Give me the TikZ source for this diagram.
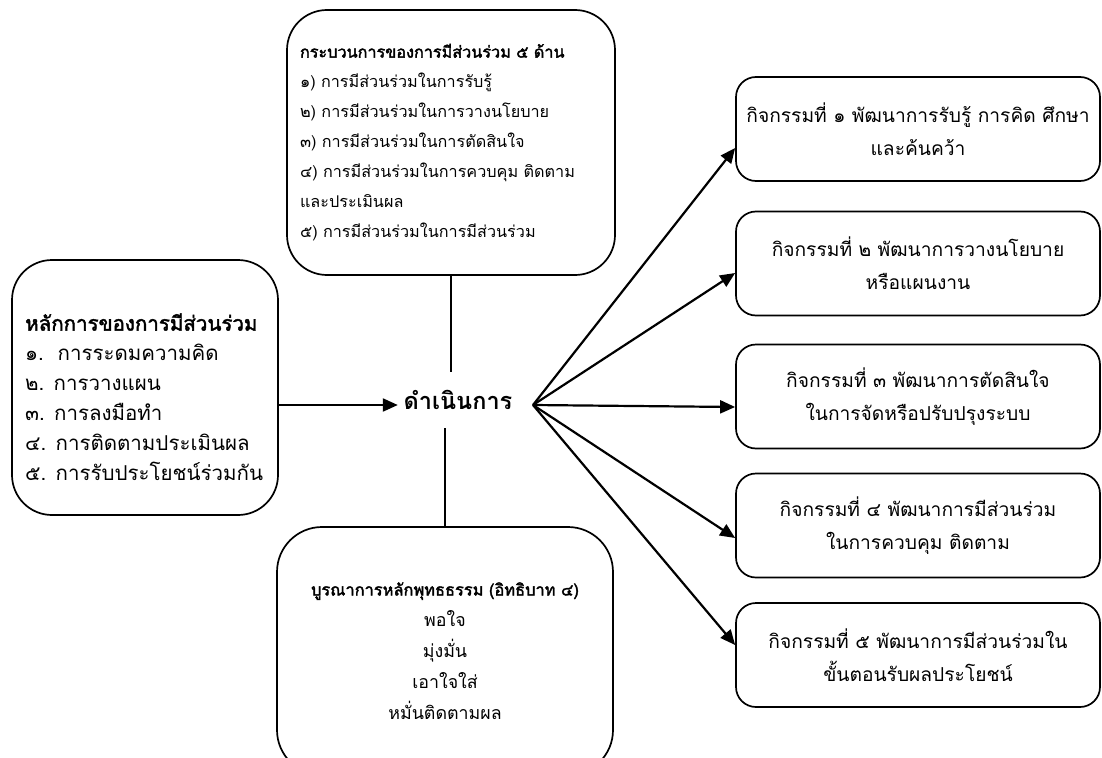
\documentclass[tikz,border=0pt]{standalone}
\usepackage{fontspec}
\setmainfont[Script=Thai]{Loma}
\newfontfamily\headfont[Script=Thai,FakeBold=2.2]{Loma}
\usetikzlibrary{arrows.meta,calc}

\begin{document}
\begin{tikzpicture}[x=1pt,y=-1pt,
  panel/.style={draw,line width=1.7pt,inner xsep=13pt,inner ysep=0pt},
  listbox/.style={panel,rounded corners=40pt,align=left},
  actbox/.style={panel,rounded corners=20pt,align=center,minimum width=364pt,
    minimum height=104pt,inner xsep=0pt,font=\fontsize{19.2}{33}\selectfont},
  link/.style={line width=1.5pt},
  flow/.style={line width=2.2pt,-{Triangle[length=15pt,width=13pt]}}]
\useasboundingbox (0,0) rectangle (1102,757);

% process box (top)
\node[listbox,text width=302pt,minimum height=265pt,font=\fontsize{16.2}{30}\selectfont]
  (proc) at (451,142.5) {%
  {\headfont กระบวนการของการมีส่วนร่วม ๕ ด้าน}\\
  ๑) การมีส่วนร่วมในการรับรู้\\
  ๒) การมีส่วนร่วมในการวางนโยบาย\\
  ๓) การมีส่วนร่วมในการตัดสินใจ\\
  ๔) การมีส่วนร่วมในการควบคุม ติดตาม\\
  และประเมินผล\\
  ๕) การมีส่วนร่วมในการมีส่วนร่วม};

% principles box (left): frame and its list
\node[panel,rounded corners=40pt,minimum width=266pt,minimum height=255pt]
  (prin) at (145,387.5) {};
\node[anchor=west,inner sep=0pt,align=left,font=\fontsize{20.5}{30}\selectfont]
  (printxt) at (25,397) {%
  {\headfont หลักการของการมีส่วนร่วม}\\
  ๑.\ \ การระดมความคิด\\
  ๒. การวางแผน\\
  ๓. การลงมือทำ\\
  ๔. การติดตามประเมินผล\\
  ๕. การรับประโยชน์ร่วมกัน};

% dhamma box (bottom)
\node[panel,rounded corners=45pt,align=center,minimum width=336pt,minimum height=248pt,
  font=\fontsize{17.8}{31}\selectfont] (dham) at (445,651) {%
  {\headfont\fontsize{16.4}{31}\selectfont บูรณาการหลักพุทธธรรม (อิทธิบาท ๔)}\\
  พอใจ\\
  มุ่งมั่น\\
  เอาใจใส่\\
  หมั่นติดตามผล};

% central step
\node[font=\bfseries\fontsize{23.5}{28}\selectfont,inner sep=0pt,minimum height=56pt,
  minimum width=120pt] (run) at (458,400) {ดำเนินการ};
\coordinate (hub) at (533,405);

% activity boxes (right)
\node[actbox] (a1) at (918,129)   {กิจกรรมที่ ๑ พัฒนาการรับรู้ การคิด ศึกษา\\และค้นคว้า};
\node[actbox] (a2) at (918,263.5) {กิจกรรมที่ ๒ พัฒนาการวางนโยบาย\\หรือแผนงาน};
\node[actbox] (a3) at (918,396.5) {กิจกรรมที่ ๓ พัฒนาการตัดสินใจ\\ในการจัดหรือปรับปรุงระบบ};
\node[actbox] (a4) at (918,525.5) {กิจกรรมที่ ๔ พัฒนาการมีส่วนร่วม\\ในการควบคุม ติดตาม};
\node[actbox] (a5) at (918,655)   {กิจกรรมที่ ๕ พัฒนาการมีส่วนร่วมใน\\ขั้นตอนรับผลประโยชน์};

% connectors
\draw[link] (proc.south) -- (proc.south |- run.north);
\draw[link] (dham.north) -- (dham.north |- run.south);
\draw[flow] (prin.east |- hub) -- (run.west |- hub);
\draw[flow] (hub) -- (a1.west |- 0,148);
\draw[flow] (hub) -- (a2.west |- 0,273);
\draw[flow] (hub) -- (a3.west |- 0,407);
\draw[flow] (hub) -- (a4.west |- 0,538);
\draw[flow] (hub) -- (a5.west |- 0,645);
\end{tikzpicture}
\end{document}
